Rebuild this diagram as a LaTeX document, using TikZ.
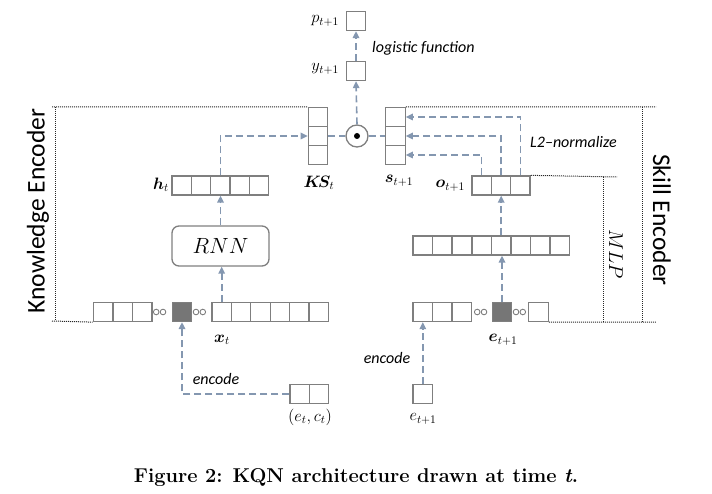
\RequirePackage{fix-cm}
\documentclass[tikz,border=0pt]{standalone}
\usepackage{amsmath}
\usepackage{bm}
\usepackage{fontspec}
\newfontfamily\calib{Carlito}
\usetikzlibrary{arrows.meta}
\definecolor{conncol}{HTML}{8497B0}
\definecolor{boxcol}{HTML}{7F7F7F}
\definecolor{fillcol}{HTML}{767676}
\tikzset{
  cell/.style={draw=boxcol, line width=1.3pt, minimum width=19.4pt, minimum height=19pt, inner sep=0pt},
  hotcell/.style={cell, fill=fillcol},
  dotc/.style={draw=boxcol, line width=0.9pt, circle, minimum size=5.6pt, inner sep=0pt, outer sep=0pt},
  conn/.style={draw=conncol, line width=1.6pt, dash pattern=on 7pt off 4pt},
  arr/.style={conn, -{Triangle[length=7pt,width=6.5pt]}},
  bracket/.style={draw=black!85, line width=1pt, densely dotted},
  mlab/.style={font=\fontsize{16.5}{18}\selectfont, inner sep=1pt},
  slab/.style={font=\calib\itshape\fontsize{16}{18}\selectfont, inner sep=1pt},
  enclab/.style={font=\calib\fontsize{25.5}{28}\selectfont, inner sep=0pt}
}
\begin{document}
\begin{tikzpicture}[x=1pt,y=-1pt]
\useasboundingbox (0,0) rectangle (712,494);
% top output
\node[cell] (p) at (356,21) {};
\node[cell] (y) at (356,71) {};
\node[mlab, anchor=east] (plab) at (340,21) {$p_{t+1}$};
\node[mlab, anchor=east] (ylab) at (340,69) {$y_{t+1}$};
\node[slab, anchor=west] (logf) at (371,48) {logistic function};
\node[draw=boxcol, line width=1.3pt, circle, minimum size=22pt, inner sep=0pt] (odot) at (357,136) {};
\node[fill=black, circle, minimum size=6pt, inner sep=0pt] (odotc) at (357,136) {};
% KS and s
\node[cell] (ks1) at (318,117) {};
\node[cell] (ks2) at (318,136) {};
\node[cell] (ks3) at (318,155) {};
\node[cell] (s1) at (395.5,117) {};
\node[cell] (s2) at (395.5,136) {};
\node[cell] (s3) at (395.5,155) {};
\node[mlab] (kslab) at (319,183) {$\bm{K\!S}_t$};
\node[mlab] (slabel) at (399,181) {$\bm{s}_{t+1}$};
% h_t
\foreach \i/\xx in {1/181.7,2/201,3/220.3,4/239.6,5/258.9}{
  \node[cell] (h\i) at (\xx,185.5) {};
}
\node[mlab, anchor=east] (hlab) at (170,185) {$\bm{h}_t$};
% RNN
\node[draw=boxcol, line width=1.3pt, rounded corners=7pt, minimum width=97pt, minimum height=40pt, inner sep=0pt,
      font=\fontsize{22}{24}\selectfont] (rnn) at (220.5,246) {$RNN$};
% x_t row
\foreach \i/\xx in {1/103,2/122.6,3/142.2}{
  \node[cell] (xl\i) at (\xx,312) {};
}
\node[dotc] (xc1) at (156.2,312) {};
\node[dotc] (xc2) at (163,312) {};
\node[hotcell] (xfill) at (182,312) {};
\node[dotc] (xc3) at (196,312) {};
\node[dotc] (xc4) at (202.8,312) {};
\foreach \i/\xx in {1/221.7,2/241.1,3/260.5,4/279.9,5/299.3,6/318.7}{
  \node[cell] (xr\i) at (\xx,312) {};
}
\node[mlab] (xlab) at (222,340) {$\bm{x}_t$};
% (e_t,c_t)
\node[cell] (ec1) at (299.7,394) {};
\node[cell] (ec2) at (319.1,394) {};
\node[mlab] (eclab) at (310,417) {$(e_t,c_t)$};
\node[slab] (enc1) at (216,379) {encode};
% e_{t+1}
\node[cell] (en) at (422.8,394) {};
\node[mlab] (enlab) at (423,419) {$e_{t+1}$};
\node[slab] (enc2) at (387,358) {encode};
% skill row
\foreach \i/\xx in {1/422.8,2/442.2,3/461.6}{
  \node[cell] (sl\i) at (\xx,312) {};
}
\node[dotc] (sc1) at (477.2,312) {};
\node[dotc] (sc2) at (484,312) {};
\node[hotcell] (sfill) at (502,312) {};
\node[dotc] (sc3) at (516,312) {};
\node[dotc] (sc4) at (522.8,312) {};
\node[cell] (slast) at (538.5,312) {};
\node[mlab] (eplab) at (503,340) {$\bm{e}_{t+1}$};
% hidden MLP row
\foreach \i in {1,...,8}{
  \node[cell] (hd\i) at ({422.8+(\i-1)*19.6},245.5) {};
}
% o_{t+1}
\node[cell] (o1) at (481.6,185.5) {};
\node[cell] (o2) at (501,185.5) {};
\node[cell] (o3) at (520.4,185.5) {};
\node[mlab, anchor=east] (olab) at (466,186) {$\bm{o}_{t+1}$};
\node[slab, anchor=west] (l2) at (529,142) {L2\textendash normalize};
% connectors
\draw[arr] (ec1.west) -| (xfill.south);
\draw[arr] (en.north) -- (sl1.south);
\draw[arr] (xr1.north) -- (xr1.north |- rnn.south);
\draw[arr] (rnn.north) -- (rnn.north |- h3.south);
\draw[arr] (h3.north) |- (ks2.west);
\draw[conn] (ks2.east) -- (odot.west);
\draw[conn] (odot.east) -- (s2.west);
\draw[arr] (odot.north) -- (y.south);
\draw[arr] (y.north) -- (p.south);
\draw[arr] (sfill.north) -- (sfill.north |- hd5.south);
\draw[arr] (hd5.north) -- (hd5.north |- o2.south);
\draw[arr] (o1.north) |- (s3.east);
\draw[arr] (o2.north) |- (s2.east);
\draw[arr] (o3.north) |- (s1.east);
% brackets
\coordinate (keTL) at (52,107);
\coordinate (keBL) at (52,321);
\coordinate (keV1) at (55,107);
\coordinate (keV2) at (55,321);
\draw[bracket] (keTL) -- (ks1.north west);
\draw[bracket] (keV1) -- (keV2);
\draw[bracket] (keBL) -- (xl1.south west);
\coordinate (seTR) at (656,107);
\coordinate (seBR) at (656,322);
\coordinate (seV1) at (642,107);
\coordinate (seV2) at (642,322);
\draw[bracket] (s1.north east) -- (seTR);
\draw[bracket] (seV1) -- (seV2);
\draw[bracket] (slast.south east) -- (seBR);
\coordinate (mlT) at (617,177);
\coordinate (mlV1) at (603,177);
\coordinate (mlV2) at (603,322);
\draw[bracket] (o3.north east) -- (mlT);
\draw[bracket] (mlV1) -- (mlV2);
\node[enclab, rotate=90] (kelab) at (38,211) {Knowledge Encoder};
\node[enclab, rotate=-90] (selab) at (662,220) {Skill Encoder};
\node[rotate=-90, font=\fontsize{20}{22}\selectfont] (mlplab) at (616,254) {$MLP$};
% caption
\node[font=\bfseries\fontsize{20}{22}\selectfont] (cap) at (356,478) {Figure 2: KQN architecture drawn at time \textit{t}.};
\end{tikzpicture}
\end{document}
